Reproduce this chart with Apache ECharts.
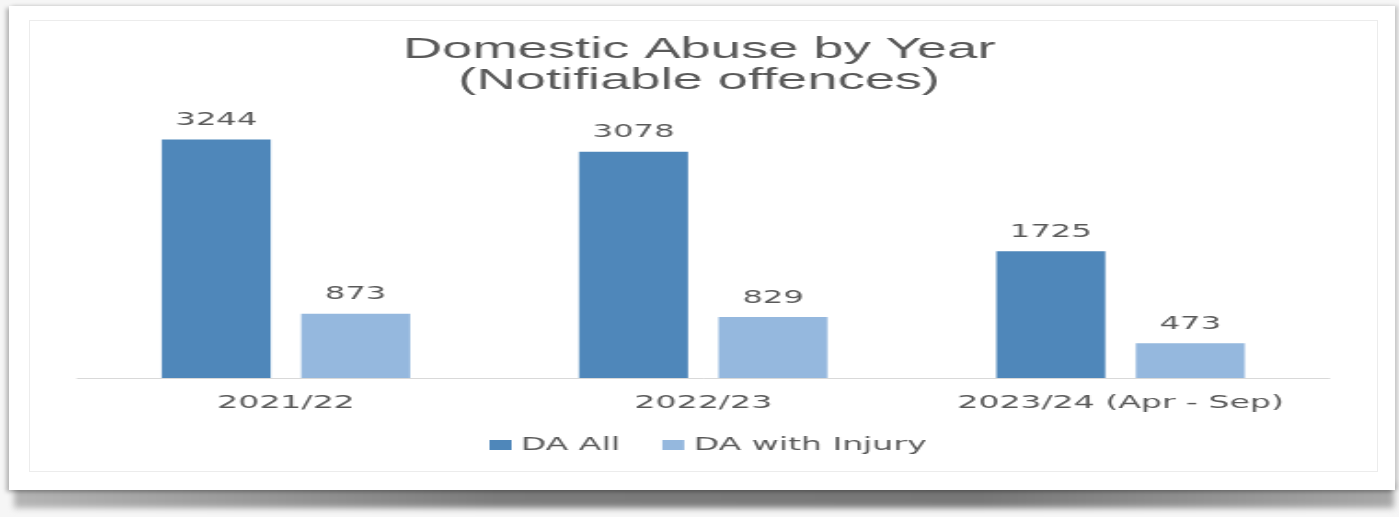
<!DOCTYPE html>
<html><head><meta charset="utf-8">
<script src="https://cdn.jsdelivr.net/npm/echarts@6/dist/echarts.min.js"></script>
<style>
html,body{margin:0;padding:0;width:1399px;height:517px;overflow:hidden;background:#f2f2f2;}
#bg{position:absolute;left:0;top:0;width:1399px;height:517px;background:#f6f6f6;}
#shadow{position:absolute;left:14px;top:484px;width:1380px;height:24px;background:linear-gradient(to right,#b4b4b4,#7c7c7c 35%,#777 70%,#a8a8a8);filter:blur(3px);}
#panel{position:absolute;left:9px;top:6px;width:1386px;height:484px;background:#fff;box-shadow:-3px 2px 4px rgba(0,0,0,0.25),3px 0 4px rgba(0,0,0,0.18);}
#frame{position:absolute;left:29px;top:20px;width:1347px;height:450px;border:1px solid #ececec;background:#fff;}
#chart{position:absolute;left:0;top:0;width:760.3px;height:517px;transform:scaleX(1.84);transform-origin:0 0;}
</style>
</head>
<body>
<div id="bg"></div>
<div id="shadow"></div>
<div id="panel"></div>
<div id="frame"></div>
<div id="chart"></div>
<script>
const categories = ['2021/22', '2022/23', '2023/24 (Apr - Sep)'];
const seriesNames = ['DA All', 'DA with Injury'];
const daAll = [3244, 3078, 1725];
const daWithInjury = [873, 829, 473];

const textColor = '#595959';
const labelFont = 'DejaVu Sans';

const chart = echarts.init(document.getElementById('chart'), null, {renderer: 'canvas'});
const labelCfg = {
  show: true, position: 'top', distance: 10,
  fontFamily: labelFont, fontSize: 17.5, color: textColor
};
chart.setOption({
  animation: false,
  backgroundColor: 'transparent',
  title: {
    text: 'Domestic Abuse by Year\n(Notifiable offences)',
    left: 'center', top: 30,
    textStyle: {fontFamily: 'Liberation Sans', fontSize: 29.5, fontWeight: 'normal', color: textColor, lineHeight: 30.5}
  },
  legend: {
    data: seriesNames,
    left: 261, top: 431, padding: 5,
    icon: 'rect', itemWidth: 12, itemHeight: 10, itemGap: 23,
    textStyle: {fontFamily: labelFont, fontSize: 18, color: textColor}
  },
  grid: {left: 42, right: 37.6, top: 84, bottom: 139, containLabel: false},
  xAxis: {
    type: 'category', data: categories,
    axisLine: {lineStyle: {color: '#d9d9d9', width: 1}},
    axisTick: {show: false},
    axisLabel: {fontFamily: labelFont, fontSize: 18, color: textColor, margin: 16, interval: 0}
  },
  yAxis: {type: 'value', min: 0, max: 4000, show: false, splitLine: {show: false}},
  series: [
    {name: seriesNames[0], type: 'bar', data: daAll, barWidth: 59.2, barGap: '28%',
     itemStyle: {color: '#4f87ba'}, label: labelCfg},
    {name: seriesNames[1], type: 'bar', data: daWithInjury, barWidth: 59.2, barGap: '28%',
     itemStyle: {color: '#95b8de'}, label: labelCfg}
  ]
});
</script>
</body></html>
